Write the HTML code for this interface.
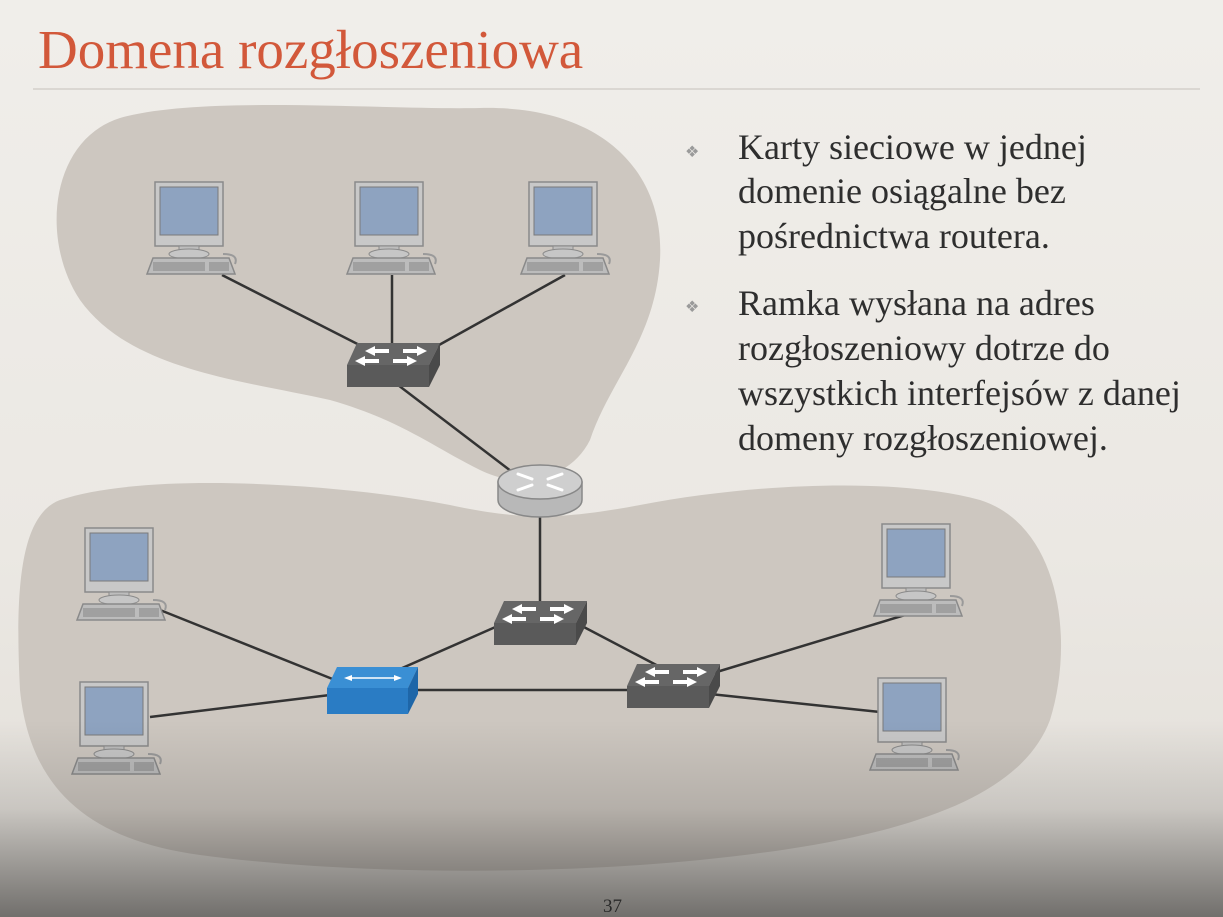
<!DOCTYPE html>
<html><head><meta charset="utf-8"><style>
html,body{margin:0;padding:0;width:1223px;height:917px;overflow:hidden;background:#eeebe6}
svg{display:block}
</style></head><body>
<svg width="1223" height="917" viewBox="0 0 1223 917" xmlns="http://www.w3.org/2000/svg">
<defs>
<linearGradient id="bg" x1="0" y1="0" x2="0" y2="1">
<stop offset="0" stop-color="#f0eeea"/><stop offset="0.6" stop-color="#ebe8e3"/><stop offset="1" stop-color="#e2ded8"/>
</linearGradient>
<linearGradient id="shade" x1="0" y1="0" x2="0" y2="1">
<stop offset="0" stop-color="#000" stop-opacity="0"/><stop offset="0.45" stop-color="#000" stop-opacity="0.12"/><stop offset="1" stop-color="#000" stop-opacity="0.5"/>
</linearGradient>
<g id="pc">
<rect x="0" y="0" width="68" height="64" fill="#c8c8c8" stroke="#8a8a8a" stroke-width="1.5"/>
<rect x="5" y="5" width="58" height="48" fill="#8ea3c0" stroke="#7a7a7a"/>
<rect x="24" y="64" width="20" height="6" fill="#bdbdbd" stroke="#8a8a8a"/>
<ellipse cx="34" cy="72" rx="20" ry="5" fill="#c6c6c6" stroke="#8a8a8a"/>
<path d="M-2 76 H74 L80 92 H-8 Z" fill="#bcbcbc" stroke="#8a8a8a" stroke-width="1.5"/>
<rect x="-2" y="80" width="52" height="9" fill="#a0a0a0"/>
<rect x="54" y="80" width="20" height="9" fill="#a0a0a0"/>
<path d="M68 72 Q84 72 80 82" fill="none" stroke="#9a9a9a" stroke-width="2"/>
</g>
<g id="sw">
<path d="M10 0 H93 L82 22 H0 Z" fill="#666"/>
<path d="M0 22 H82 V44 H0 Z" fill="#5a5a5a"/>
<path d="M82 22 L93 0 V22 L82 44 Z" fill="#4a4a4a"/>
<g fill="#fff">
<path d="M18 8 L28 3 V6 H42 V10 H28 V13 Z"/>
<path d="M80 8 L70 3 V6 H56 V10 H70 V13 Z"/>
<path d="M8 18 L18 13 V16 H32 V20 H18 V23 Z"/>
<path d="M70 18 L60 13 V16 H46 V20 H60 V23 Z"/>
</g>
</g>
</defs>
<rect width="1223" height="917" fill="url(#bg)"/>
<!-- blobs -->
<path d="M120 118 C200 95 380 110 480 108 C600 105 665 170 660 260 C655 340 610 380 590 440 C570 480 520 490 480 470 C430 445 400 420 330 400 C240 380 130 370 80 300 C40 240 50 140 120 118 Z" fill="#cdc7c0"/>
<path d="M60 500 C150 470 350 485 450 505 C520 520 560 520 640 505 C760 482 900 478 980 500 C1060 525 1075 640 1050 720 C1020 800 900 840 700 860 C550 875 350 875 200 855 C90 840 30 790 20 690 C15 590 20 515 60 500 Z" fill="#cdc7c0"/>
<!-- lines -->
<g stroke="#333" stroke-width="2.5" fill="none">
<line x1="222" y1="275" x2="385" y2="358"/>
<line x1="392" y1="275" x2="392" y2="345"/>
<line x1="565" y1="275" x2="430" y2="350"/>
<line x1="398" y1="385" x2="520" y2="478"/>
<line x1="540" y1="515" x2="540" y2="603"/>
<line x1="500" y1="625" x2="375" y2="680"/>
<line x1="580" y1="625" x2="662" y2="668"/>
<line x1="418" y1="690" x2="630" y2="690"/>
<line x1="160" y1="610" x2="340" y2="682"/>
<line x1="150" y1="717" x2="330" y2="695"/>
<line x1="710" y1="674" x2="905" y2="615"/>
<line x1="710" y1="694" x2="880" y2="712"/>
</g>
<!-- pcs -->
<use href="#pc" x="155" y="182"/>
<use href="#pc" x="355" y="182"/>
<use href="#pc" x="529" y="182"/>
<use href="#pc" x="85" y="528"/>
<use href="#pc" x="80" y="682"/>
<use href="#pc" x="882" y="524"/>
<use href="#pc" x="878" y="678"/>
<!-- switches -->
<use href="#sw" x="347" y="343"/>
<use href="#sw" x="494" y="601"/>
<use href="#sw" x="627" y="664"/>
<!-- hub -->
<path d="M337 667 H418 L408 688 H327 Z" fill="#3a8fd4"/>
<rect x="327" y="688" width="81" height="26" fill="#2a7cc4"/>
<path d="M408 688 L418 667 V694 L408 714 Z" fill="#1e66a8"/>
<path d="M348 678 H398" stroke="#fff" stroke-width="1.5"/>
<path d="M344 678 L352 675 V681 Z M402 678 L394 675 V681 Z" fill="#fff"/>
<!-- router -->
<path d="M498 482 V500 A42 17 0 0 0 582 500 V482 Z" fill="#b8b8b8" stroke="#888" stroke-width="1.5"/>
<ellipse cx="540" cy="482" rx="42" ry="17" fill="#cfcfcf" stroke="#888" stroke-width="1.5"/>
<g stroke="#fff" stroke-width="3" fill="none" stroke-linecap="round">
<path d="M518 474 L532 479"/><path d="M562 490 L548 485"/><path d="M562 474 L548 479"/><path d="M518 490 L532 485"/>
</g>
<!-- title -->
<text x="38" y="68" font-family="Liberation Serif, serif" font-size="55" fill="#d2583a">Domena rozgłoszeniowa</text>
<line x1="33" y1="89" x2="1200" y2="89" stroke="#d4d0ca" stroke-width="1.5"/>
<g font-family="Liberation Serif, serif" font-size="36" fill="#2e2e2e">
<text x="685" y="157" font-size="16" fill="#9a9a9a">❖</text>
<text x="738" y="159">Karty sieciowe w jednej</text>
<text x="738" y="203">domenie osiągalne bez</text>
<text x="738" y="248">pośrednictwa routera.</text>
<text x="685" y="312" font-size="16" fill="#9a9a9a">❖</text>
<text x="738" y="315">Ramka wysłana na adres</text>
<text x="738" y="360">rozgłoszeniowy dotrze do</text>
<text x="738" y="405">wszystkich interfejsów z danej</text>
<text x="738" y="450">domeny rozgłoszeniowej.</text>
</g>
<rect x="0" y="720" width="1223" height="197" fill="url(#shade)"/>
<text x="603" y="912" font-family="Liberation Serif, serif" font-size="19" fill="#2a2a2a">37</text>
</svg>
</body></html>
